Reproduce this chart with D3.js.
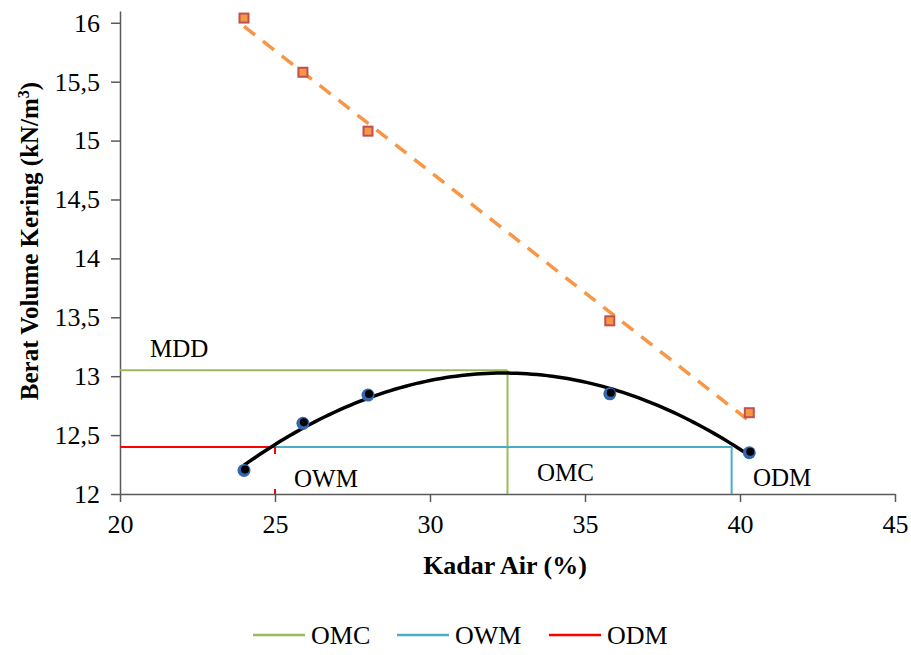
<!DOCTYPE html>
<html>
<head>
<meta charset="utf-8">
<script src="https://cdn.jsdelivr.net/npm/d3@7"></script>
<style>
  body { margin: 0; background: #fff; }
  text { font-family: "Liberation Serif", "Times New Roman", serif; fill: #000; }
</style>
</head>
<body>
<div id="chart"></div>
<script>
/* DATA */
const kadarAir = [24, 25.9, 28, 35.8, 40.3];
const beratKering = [12.2, 12.6, 12.84, 12.85, 12.35];
const zavValues = [16.04, 15.58, 15.08, 13.47, 12.69];
const xTicks = [20, 25, 30, 35, 40, 45];
const yTicks = [12, 12.5, 13, 13.5, 14, 14.5, 15, 15.5, 16];
const omcValue = 32.5, mddValue = 13.05;
const owmValue = 25, odmValue = 39.73, levelValue = 12.4;
const legendNames = ["OMC", "OWM", "ODM"];
const legendColors = ["#9BBB59", "#4BACC6", "#FF0000"];

/* SIZES */
const width = 911, height = 655,
  margin = { top: 11, left: 120, right: 16, bottom: 161 };

const svg = d3.select("#chart").append("svg")
  .attr("width", width)
  .attr("height", height);

const xScale = d3.scaleLinear()
  .domain([20, 45])
  .range([margin.left, width - margin.right]);

const yScale = d3.scaleLinear()
  .domain([12, 16.1])
  .range([height - margin.bottom, margin.top]);

const comma = d3.formatLocale({ decimal: ",", thousands: ".", grouping: [3], currency: ["", ""] }).format("~g");

// trendlines from the data (least squares)
function linearFit(xs, ys) {
  const mx = d3.mean(xs), my = d3.mean(ys);
  let sxy = 0, sxx = 0;
  xs.forEach((x, i) => { sxy += (x - mx) * (ys[i] - my); sxx += (x - mx) ** 2; });
  const b = sxy / sxx;
  return x => my + b * (x - mx);
}

function quadFit(xs, ys) {
  // normal equations for y = a + b x + c x^2
  const s = k => d3.sum(xs, x => x ** k);
  const t = k => d3.sum(xs, (x, i) => x ** k * ys[i]);
  const A = [[s(0), s(1), s(2)], [s(1), s(2), s(3)], [s(2), s(3), s(4)]];
  const B = [t(0), t(1), t(2)];
  for (let i = 0; i < 3; i++) {
    for (let j = i + 1; j < 3; j++) {
      const f = A[j][i] / A[i][i];
      for (let k = i; k < 3; k++) A[j][k] -= f * A[i][k];
      B[j] -= f * B[i];
    }
  }
  const c = [0, 0, 0];
  for (let i = 2; i >= 0; i--) {
    let v = B[i];
    for (let k = i + 1; k < 3; k++) v -= A[i][k] * c[k];
    c[i] = v / A[i][i];
  }
  return x => c[0] + c[1] * x + c[2] * x * x;
}

const quad = quadFit(kadarAir, beratKering);
const lin = linearFit(kadarAir, zavValues);
const x0 = d3.min(kadarAir), x1 = d3.max(kadarAir);
const curveX = d3.range(0, 101).map(i => x0 + (x1 - x0) * i / 100);

/* AXES */
const xAxis = svg.append("g")
  .attr("transform", `translate(0, ${yScale(12)})`)
  .call(d3.axisBottom(xScale).tickValues(xTicks).tickSize(8).tickPadding(9).tickSizeOuter(0));

const yAxis = svg.append("g")
  .attr("transform", `translate(${margin.left}, 0)`)
  .call(d3.axisLeft(yScale).tickValues(yTicks).tickFormat(comma).tickSize(9).tickPadding(11).tickSizeOuter(0));

[xAxis, yAxis].forEach(g => {
  g.select(".domain").attr("stroke", "#595959").attr("stroke-width", 1.5);
  g.selectAll(".tick line").attr("stroke", "#595959").attr("stroke-width", 1.5);
  g.selectAll(".tick text").attr("font-size", 26).attr("font-family", "Liberation Serif").attr("fill", "#000");
});
xAxis.selectAll(".tick text").attr("dy", "0.85em");

svg.append("text")
  .attr("x", 505).attr("y", 574)
  .attr("text-anchor", "middle")
  .attr("font-size", 26).attr("font-weight", "bold")
  .text("Kadar Air (%)");

const yTitle = svg.append("text")
  .attr("transform", `translate(38, 241) rotate(-90)`)
  .attr("text-anchor", "middle")
  .attr("font-size", 25).attr("font-weight", "bold");
yTitle.append("tspan").text("Berat Volume Kering (kN/m");
yTitle.append("tspan").attr("font-size", 16).attr("dy", -9).text("3");
yTitle.append("tspan").attr("dy", 9).text(")");

/* REFERENCE LINES */
svg.append("line")
  .attr("x1", xScale(20)).attr("x2", xScale(omcValue))
  .attr("y1", yScale(mddValue)).attr("y2", yScale(mddValue))
  .attr("stroke", legendColors[0]).attr("stroke-width", 2);
svg.append("line")
  .attr("x1", xScale(omcValue)).attr("x2", xScale(omcValue))
  .attr("y1", yScale(mddValue)).attr("y2", yScale(12))
  .attr("stroke", legendColors[0]).attr("stroke-width", 2);

svg.append("line")
  .attr("x1", xScale(owmValue)).attr("x2", xScale(odmValue))
  .attr("y1", yScale(levelValue)).attr("y2", yScale(levelValue))
  .attr("stroke", legendColors[1]).attr("stroke-width", 2);
svg.append("line")
  .attr("x1", xScale(odmValue)).attr("x2", xScale(odmValue))
  .attr("y1", yScale(levelValue)).attr("y2", yScale(12))
  .attr("stroke", legendColors[1]).attr("stroke-width", 2);

svg.append("line")
  .attr("x1", xScale(20)).attr("x2", xScale(owmValue))
  .attr("y1", yScale(levelValue)).attr("y2", yScale(levelValue))
  .attr("stroke", legendColors[2]).attr("stroke-width", 2);
svg.append("line")
  .attr("x1", xScale(owmValue)).attr("x2", xScale(owmValue))
  .attr("y1", yScale(levelValue)).attr("y2", yScale(12))
  .attr("stroke", legendColors[2]).attr("stroke-width", 2)
  .attr("stroke-dasharray", "7,35");

/* TRENDLINES */
svg.append("path")
  .datum([x0, x1])
  .attr("fill", "none")
  .attr("stroke", "#F79646").attr("stroke-width", 3.5)
  .attr("stroke-dasharray", "14,10")
  .attr("d", d3.line().x(d => xScale(d)).y(d => yScale(lin(d))));

svg.append("path")
  .datum(curveX)
  .attr("fill", "none")
  .attr("stroke", "#000").attr("stroke-width", 3.5)
  .attr("d", d3.line().x(d => xScale(d)).y(d => yScale(quad(d))));

/* MARKERS */
svg.selectAll(".sq")
  .data(kadarAir)
  .join("rect")
  .attr("class", "sq")
  .attr("x", d => xScale(d) - 4.5)
  .attr("y", (d, i) => yScale(zavValues[i]) - 4.5)
  .attr("width", 9).attr("height", 9)
  .attr("fill", "#F79646")
  .attr("stroke", "#C0504D").attr("stroke-width", 2);

svg.selectAll(".dotB")
  .data(kadarAir)
  .join("circle")
  .attr("class", "dotB")
  .attr("cx", d => xScale(d))
  .attr("cy", (d, i) => yScale(beratKering[i]))
  .attr("r", 6.5)
  .attr("fill", "#3567B0");

svg.selectAll(".dotK")
  .data(kadarAir)
  .join("circle")
  .attr("class", "dotK")
  .attr("cx", d => xScale(d) + 1)
  .attr("cy", (d, i) => yScale(beratKering[i]) - 1)
  .attr("r", 4)
  .attr("fill", "#000");

/* LABELS */
const labels = [
  { t: "MDD", x: 150, y: 357 },
  { t: "OWM", x: 294, y: 487 },
  { t: "OMC", x: 537, y: 481 },
  { t: "ODM", x: 753, y: 486 }
];
svg.selectAll(".lbl")
  .data(labels)
  .join("text")
  .attr("class", "lbl")
  .attr("x", d => d.x).attr("y", d => d.y)
  .attr("font-size", 25)
  .text(d => d.t);

/* LEGEND */
const legend = svg.selectAll(".leg")
  .data(legendNames)
  .join("g")
  .attr("class", "leg")
  .attr("transform", (d, i) => `translate(${[253, 397, 549][i]}, 635)`);
legend.append("line")
  .attr("x1", 0).attr("x2", 52)
  .attr("stroke", (d, i) => legendColors[i]).attr("stroke-width", 2.5);
legend.append("text")
  .attr("x", 58).attr("y", 9)
  .attr("font-size", 26)
  .text(d => d);
</script>
</body>
</html>
